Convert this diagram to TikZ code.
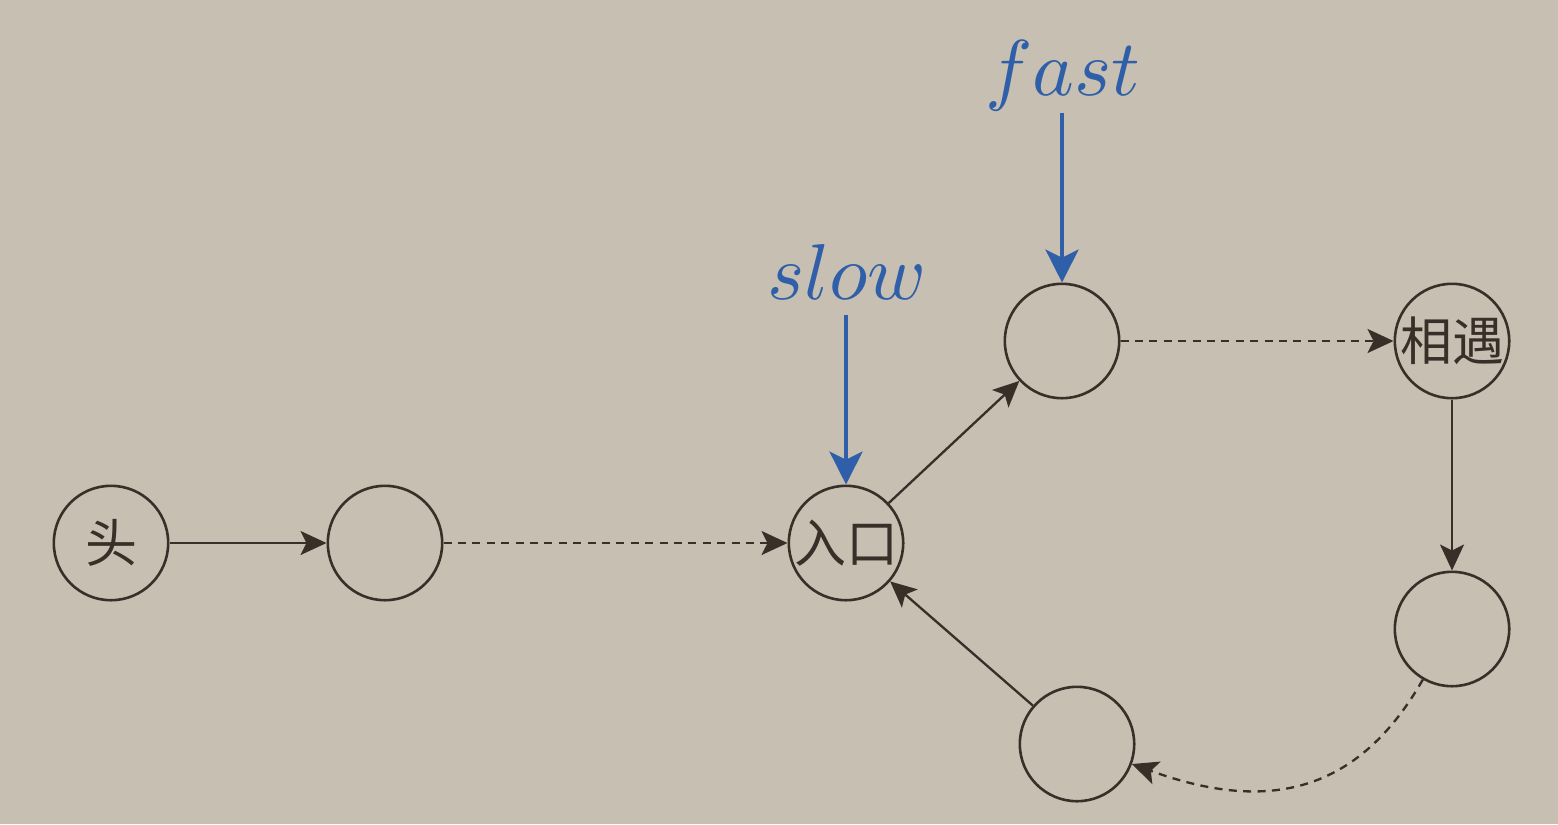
\documentclass[tikz,border=0pt]{standalone}
\usepackage{fontspec}
\newfontfamily\cjk{Noto Sans CJK SC}
\usetikzlibrary{arrows.meta}
\definecolor{bg}{RGB}{199,191,178}
\definecolor{ink}{RGB}{56,48,40}
\definecolor{pblue}{RGB}{47,95,168}
\begin{document}
\begin{tikzpicture}[x=0.25pt,y=-0.25pt,
  nd/.style={circle,draw=ink,line width=0.65pt,minimum size=28.6pt,inner sep=0pt,
    font=\cjk\fontsize{13}{15}\selectfont,text=ink},
  arr/.style={draw=ink,line width=0.58pt,-{Stealth[length=6.5pt,width=6pt,inset=1.5pt]}},
  darr/.style={arr,dash pattern=on 2pt off 1.6pt},
  barr/.style={draw=pblue,line width=1.2pt,-{Stealth[length=8.2pt,width=8.2pt,inset=2pt]}},
  lbl/.style={text=pblue,scale=1.98,inner sep=0pt}]
\fill[bg] (0,0) rectangle (1558,824);
\useasboundingbox (0,0) rectangle (1558,824);
\node[nd] (n1) at (111,543) {头};
\node[nd] (n2) at (385,543) {};
\node[nd] (n3) at (846,543) {入口};
\node[nd] (n4) at (1062,341) {};
\node[nd] (n5) at (1452,341) {相遇};
\node[nd] (n6) at (1452,629) {};
\node[nd] (n7) at (1077,744) {};
\node[lbl] (ls) at (847,272) {$slow$};
\node[lbl] (lf) at (1063,76) {$fast$};
\draw[arr] (n1) -- (n2);
\draw[darr] (n2) -- (n3);
\draw[arr] (n3) -- (n4);
\draw[darr] (n4) -- (n5);
\draw[arr] (n5) -- (n6);
\draw[darr] (n6.-120) .. controls +(-68,119) and +(129,47) .. (n7.-20);
\draw[arr] (n7) -- (n3);
\draw[barr,shorten <=3.5pt] (ls.south -| n3.north) -- (n3.north);
\draw[barr] (lf.south -| n4.north) -- (n4.north);
\end{tikzpicture}
\end{document}
